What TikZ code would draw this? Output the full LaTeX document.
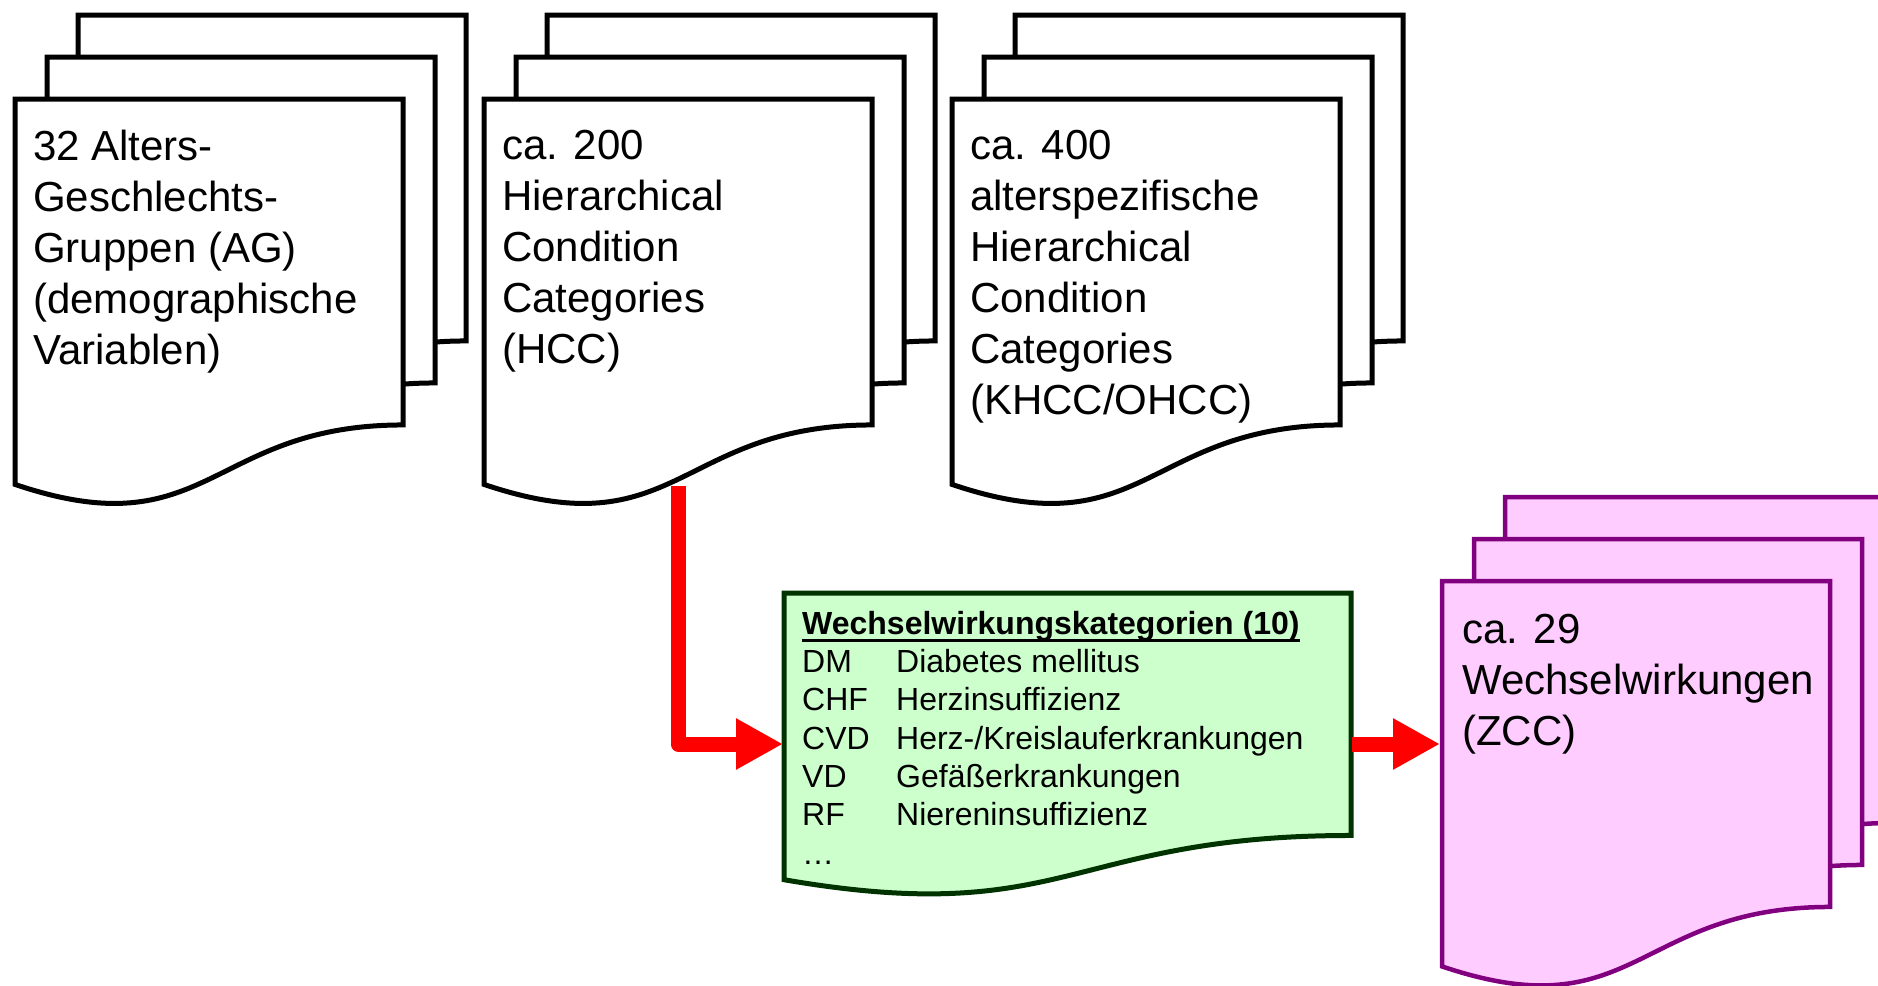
\documentclass[tikz,border=0pt]{standalone}
\usepackage{fontspec}
\setmainfont{Liberation Sans}
\usetikzlibrary{arrows.meta}

\definecolor{wwkfill}{HTML}{CCFFCC}
\definecolor{wwkline}{HTML}{003300}
\definecolor{zccfill}{HTML}{FFCCFF}
\definecolor{zccline}{HTML}{800080}

\tikzset{
  page/.style={draw=black, fill=white, line width=5pt},
  wwkpage/.style={draw=wwkline, fill=wwkfill, line width=5pt},
  zccpage/.style={draw=zccline, fill=zccfill, line width=4.5pt},
  doctext/.style={anchor=north west, inner sep=0pt, align=left,
    font=\fontsize{42}{51}\selectfont, execute at begin node=\strut},
  listtext/.style={anchor=north west, inner sep=0pt, align=left,
    font=\fontsize{32}{38.3}\selectfont, execute at begin node=\strut},
  redarrow/.style={draw=red, line width=15pt, line join=round,
    -{Triangle[length=47pt,width=48pt]}}
}

% one sheet with a wavy lower edge, top left corner at (#2,#3)
\newcommand{\docshape}[5][]{%
  \draw[#1] (#2,#3) -- (#2+#4,#3) -- (#2+#4,#3+0.795*#5)
    .. controls (#2+0.5*#4,#3+0.795*#5) and (#2+0.5*#4,#3+1.1*#5)
    .. (#2,#3+0.94*#5) -- cycle;}
% three sheets, back to front
\newcommand{\docstack}[5][]{%
  \docshape[#1]{#2+63}{#3-84}{#4}{#5}
  \docshape[#1]{#2+32}{#3-42}{#4}{#5}
  \docshape[#1]{#2}{#3}{#4}{#5}}

\newsavebox{\titlebox}
\newcommand{\thickul}[1]{\sbox{\titlebox}{#1}%
  \rlap{\rule[-7.5pt]{\wd\titlebox}{3pt}}\usebox{\titlebox}}

\begin{document}
\begin{tikzpicture}[x=1pt, y=-1pt]
  \useasboundingbox (0,0) rectangle (1878,985);
  \clip (0,0) rectangle (1878,985);

  % Define sheets
  \docstack[page]{15}{99}{388}{410}
  \docstack[page]{484}{99}{388}{410}
  \docstack[page]{952}{99}{388}{410}
  \docshape[wwkpage]{784}{593}{567}{305}
  \docstack[zccpage]{1442}{581}{388}{410}

  % Define nodes
  \node[doctext] (ag)   at (33,130)  {32 Alters-\\Geschlechts-\\Gruppen (AG)\\(demographische\\Variablen)};
  \node[doctext] (hcc)  at (502,130) {ca. 200\\Hierarchical\\Condition\\Categories\\(HCC)};
  \node[doctext] (khcc) at (970,130) {ca. 400\\alterspezifische\\Hierarchical\\Condition\\Categories\\(KHCC/OHCC)};
  \node[listtext] (wwk) at (802,611) {\textbf{\thickul{Wechselwirkungskategorien (10)}}\\
    \makebox[94pt][l]{DM}Diabetes mellitus\\
    \makebox[94pt][l]{CHF}Herzinsuffizienz\\
    \makebox[94pt][l]{CVD}Herz-/Kreislauferkrankungen\\
    \makebox[94pt][l]{VD}Gefäßerkrankungen\\
    \makebox[94pt][l]{RF}Niereninsuffizienz\\
    …};
  \node[doctext] (zcc)  at (1462,614) {ca. 29\\Wechselwirkungen\\(ZCC)};

  \coordinate (hcc-s) at (678,486);
  \coordinate (wwk-w) at (783,744);
  \coordinate (wwk-e) at (1352,744);
  \coordinate (zcc-w) at (1440,744);

  % Connect the nodes
  \draw[redarrow] (hcc-s) |- (wwk-w);
  \draw[redarrow] (wwk-e) -- (zcc-w);

\end{tikzpicture}
\end{document}
